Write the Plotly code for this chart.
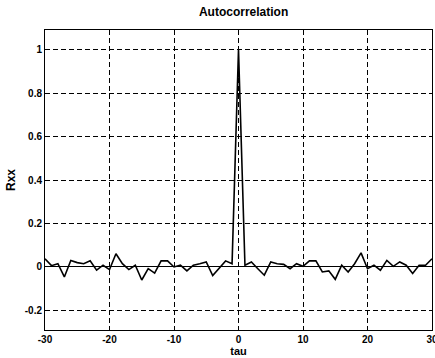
import plotly.graph_objects as go

lags = list(range(-30, 31))
rxx = [0.038, 0.006, 0.015, -0.046, 0.030, 0.020, 0.015, 0.028, -0.015, 0.008,
       -0.012, 0.061, 0.015, -0.012, 0.008, -0.060, -0.008, -0.028, 0.028, 0.028,
       0.000, 0.008, -0.018, 0.008, 0.015, 0.023, -0.040, -0.008, 0.028, 0.015,
       1.000,
       0.008, 0.023, -0.008, -0.038, 0.023, 0.015, 0.012, -0.008, 0.015, 0.003,
       0.028, 0.028, -0.023, -0.018, -0.057, 0.008, -0.023, 0.015, 0.065, -0.008,
       0.008, -0.015, 0.030, 0.003, 0.023, 0.008, -0.030, 0.008, 0.008, 0.038]

xticks = [-30, -20, -10, 0, 10, 20, 30]
xticklabels = ["-30", "-20", "-10", "0", "10", "20", "30"]
yticks = [-0.2, 0, 0.2, 0.4, 0.6, 0.8, 1]
yticklabels = ["-0.2", "0", "0.2", "0.4", "0.6", "0.8", "1"]

font_family = "Liberation Sans, Arial, sans-serif"

fig = go.Figure()
fig.add_trace(go.Scatter(x=lags, y=rxx, mode="lines",
                         line=dict(color="black", width=1.6),
                         showlegend=False, hoverinfo="skip"))

fig.update_layout(
    width=435, height=358,
    margin=dict(l=45, r=3, t=30, b=28, autoexpand=False),
    paper_bgcolor="white", plot_bgcolor="white",
    title=dict(text="<b>Autocorrelation</b>", x=0.56, xanchor="center",
               y=0.978, yanchor="top",
               font=dict(family=font_family, size=12, color="black")),
    font=dict(family=font_family, color="black"),
)
axis_common = dict(
    showline=True, mirror=True, linecolor="black", linewidth=1,
    showgrid=True, gridcolor="black", griddash="5px,3px", gridwidth=1,
    ticks="inside", ticklen=4, tickcolor="black",
    ticklabeloverflow="allow", automargin=False,
    tickfont=dict(family=font_family, size=10, color="black", weight="bold"),
)
fig.update_xaxes(range=[-30, 30], tickvals=xticks, ticktext=xticklabels,
                 zeroline=False,
                 title=dict(text="<b>tau</b>", standoff=2,
                            font=dict(family=font_family, size=11)),
                 **axis_common)
fig.update_yaxes(range=[-0.29, 1.09], tickvals=yticks, ticktext=yticklabels,
                 zeroline=True, zerolinecolor="black", zerolinewidth=1,
                 title=dict(text="<b>Rxx</b>", standoff=6,
                            font=dict(family=font_family, size=12)),
                 **axis_common)

fig.write_html("out.html")
